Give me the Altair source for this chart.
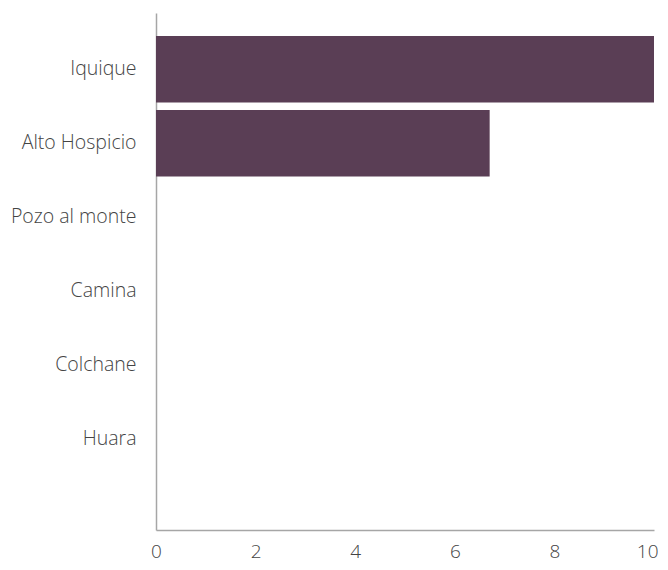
import altair as alt
import pandas as pd

comunas = ["Iquique", "Alto Hospicio", "Pozo al monte", "Camina", "Colchane", "Huara"]
valores = [10, 6.7, 0, 0, 0, 0]
ticks_x = [0, 2, 4, 6, 8, 10]

df = pd.DataFrame({"comuna": comunas, "valor": valores})

label_font = "Open Sans"

chart = alt.Chart(df).mark_bar(color="#5a3e55").encode(
    y=alt.Y("comuna:N", sort=comunas, title=None,
            scale=alt.Scale(paddingInner=0.1, paddingOuter=0.543, align=0.286),
            axis=alt.Axis(ticks=False, labelPadding=20, labelFontSize=19.5,
                          labelColor="#444444", labelFont=label_font, labelFontWeight=300,
                          domainColor="#a6a6a6", domainWidth=1.5, grid=False)),
    x=alt.X("valor:Q", title=None,
            scale=alt.Scale(domain=[0, 10], nice=False),
            axis=alt.Axis(values=ticks_x, ticks=False, labelPadding=12, labelFontSize=19,
                          labelColor="#444444", labelFont=label_font, labelFontWeight=300,
                          labelAlign=alt.condition("datum.value == 10", alt.value("right"), alt.value("center")),
                          labelOffset=alt.condition("datum.value == 10", alt.value(4), alt.value(0)),
                          domainColor="#a6a6a6", domainWidth=1.5, grid=False)),
).properties(
    width=498, height=517,
    autosize=alt.AutoSizeParams(type="none"),
    padding={"left": 148, "top": 5, "right": 4, "bottom": 32},
).configure_view(stroke=None)

chart.save("out.html", embed_options={"renderer": "svg", "actions": False})
